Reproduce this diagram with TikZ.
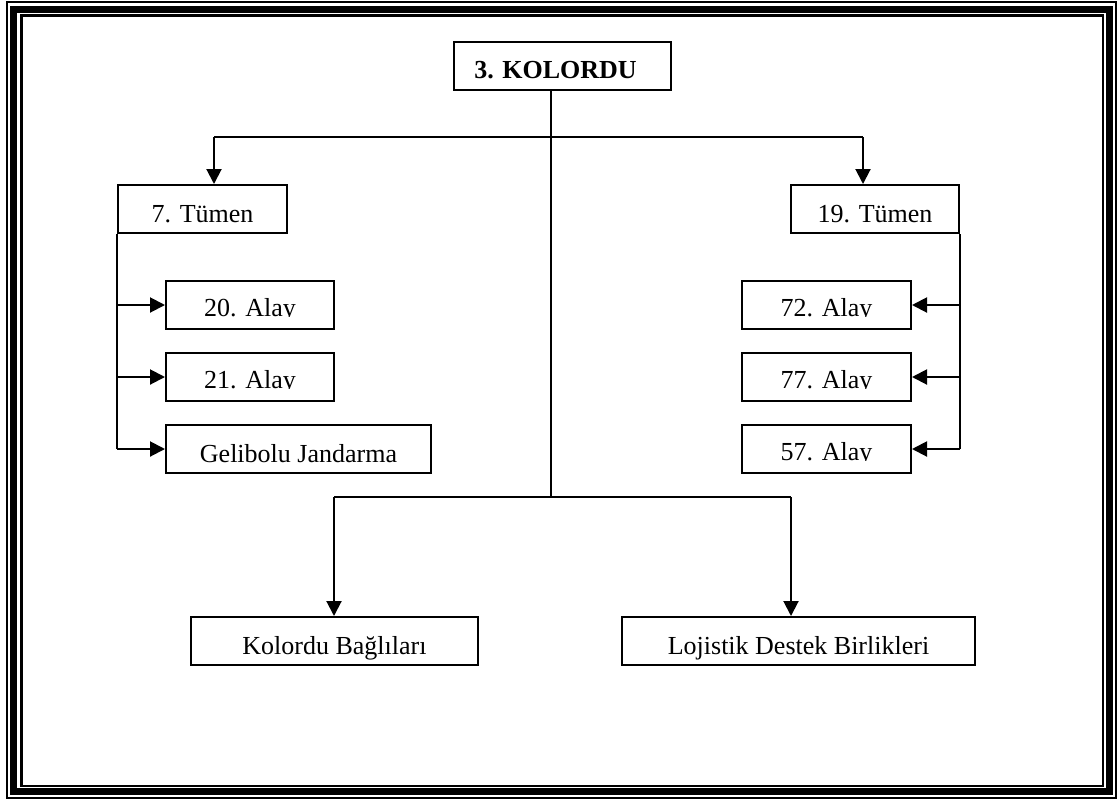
\documentclass[tikz,border=0pt]{standalone}
\usepackage{fontspec}
\setmainfont{Liberation Serif}
\usetikzlibrary{arrows.meta,calc}
\tikzset{
  box/.style={draw,line width=2pt,rectangle,inner sep=0pt,minimum height=48pt,
    text height=37pt,text depth=11pt,font=\fontsize{26}{30}\selectfont},
  txt/.style={inner sep=0pt,font=\fontsize{26}{30}\selectfont},
  link/.style={line width=2pt},
  arr/.style={line width=2pt,-{Triangle[length=15pt,width=15pt]}}
}
\begin{document}
\begin{tikzpicture}[x=1pt,y=-1pt]
\useasboundingbox (0,0) rectangle (1118,801);
% frame
\draw[line width=2pt] (7,2) rectangle (1116,798);
\draw[line width=7pt] (13.5,9.5) rectangle (1109.5,791.5);
\draw[line width=2.5pt] (21.5,15.5) rectangle (1103,786);
% boxes
\node[box,minimum width=217pt] (kol) at (562.5,65.5) {\hspace*{-14pt}\textbf{3. KOLORDU}};
\node[box,minimum width=169pt] (d7) at (202.5,209) {7. Tümen};
\node[box,minimum width=168pt] (d19) at (875,209) {19. Tümen};
\node[box,minimum width=168pt] (a20) at (250,305) {};
\node[box,minimum width=168pt] (a21) at (250,377) {};
\node[box,minimum width=265pt] (gj) at (298.5,449) {Gelibolu Jandarma};
\node[box,minimum width=169pt] (a72) at (826.5,305) {};
\node[box,minimum width=169pt] (a77) at (826.5,377) {};
\node[box,minimum width=169pt] (a57) at (826.5,449) {};
\node[box,minimum width=287pt] (kb) at (334.5,641) {Kolordu Bağlıları};
\node[box,minimum width=353pt] (ld) at (798.5,641) {Lojistik Destek Birlikleri};
% clipped Alay labels
\foreach \b/\t in {a20/20. Alay,a21/21. Alay,a72/72. Alay,a77/77. Alay,a57/57. Alay}{
  \begin{scope}
    \clip ([yshift=-2pt]\b.north west) rectangle ([yshift=-36pt]\b.north east);
    \node[txt,anchor=base] (t\b) at ([yshift=-36pt]\b.north) {\t};
  \end{scope}
}
% connector junctions
\coordinate (j1) at (551,137);
\coordinate (j2) at (551,497);
\coordinate (hl) at (214,137);
\coordinate (hr) at (863,137);
\coordinate (bl) at (334,497);
\coordinate (br) at (791,497);
% top
\draw[link] (kol.south -| j1) -- (j2);
\draw[link] (hl) -- (hr);
\draw[arr] (hl) -- (hl |- d7.north);
\draw[arr] (hr) -- (hr |- d19.north);
% left branch
\draw[link] (d7.south west) -- (d7.south west |- gj.west);
\draw[arr] (d7.south west |- a20.west) -- (a20.west);
\draw[arr] (d7.south west |- a21.west) -- (a21.west);
\draw[arr] (d7.south west |- gj.west) -- (gj.west);
% right branch
\draw[link] (d19.south east) -- (d19.south east |- a57.east);
\draw[arr] (d19.south east |- a72.east) -- (a72.east);
\draw[arr] (d19.south east |- a77.east) -- (a77.east);
\draw[arr] (d19.south east |- a57.east) -- (a57.east);
% bottom
\draw[link] (bl) -- (br);
\draw[arr] (bl) -- (bl |- kb.north);
\draw[arr] (br) -- (br |- ld.north);
\end{tikzpicture}
\end{document}
